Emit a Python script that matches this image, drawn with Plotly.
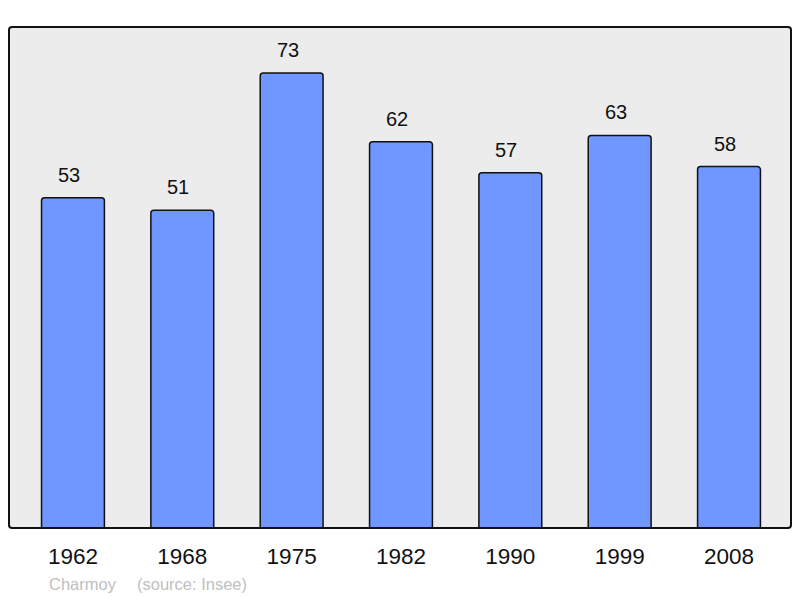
import plotly.graph_objects as go

years = ["1962", "1968", "1975", "1982", "1990", "1999", "2008"]
population = [53, 51, 73, 62, 57, 63, 58]
commune = "Charmoy"
source = "(source: Insee)"

x_pos = list(range(len(years)))

fig = go.Figure()
fig.add_trace(go.Bar(
    x=x_pos,
    y=population,
    width=0.575,
    marker=dict(color="#7096ff", line=dict(color="#111111", width=1.5), cornerradius=3),
    hoverinfo="skip",
))

# value labels above the bars (sit a little left of centre, as in the original)
for i, v in enumerate(population):
    fig.add_annotation(x=i, y=v, text=str(v), showarrow=False, yanchor="bottom",
                       yshift=10, xshift=-4, font=dict(size=20, color="#111111"))

fig.update_layout(
    width=800, height=598,
    margin=dict(l=9, r=9, t=27, b=70),
    paper_bgcolor="white",
    plot_bgcolor="#ececec",
    showlegend=False,
    font=dict(family="Liberation Sans, Arial, sans-serif"),
    xaxis=dict(range=[-0.585, 6.567], tickvals=x_pos, ticktext=years,
               showgrid=False, zeroline=False, ticks="", ticklabelstandoff=12,
               tickfont=dict(size=22.5, color="#111111")),
    yaxis=dict(range=[0, 80.4], showticklabels=False, showgrid=False,
               zeroline=False, ticks=""),
    shapes=[dict(type="path", xref="paper", yref="paper",
                 path="M 0,0.006 L 0,0.994 Q 0,1 0.004,1 L 0.996,1 Q 1,1 1,0.994 "
                      "L 1,0.006 Q 1,0 0.996,0 L 0.004,0 Q 0,0 0,0.006 Z",
                 line=dict(color="#111111", width=2), layer="above")],
)

fig.add_annotation(x=38 / 782, y=-0.112, xref="paper", yref="paper", text=commune,
                   showarrow=False, xanchor="left", yanchor="middle",
                   font=dict(size=16.5, color="#c0c0c0"))
fig.add_annotation(x=126 / 782, y=-0.112, xref="paper", yref="paper", text=source,
                   showarrow=False, xanchor="left", yanchor="middle",
                   font=dict(size=16.5, color="#c0c0c0"))

# drop the default 8px body margin so the figure fills the window exactly
fig.write_html("out.html", config={"displayModeBar": False},
               post_script="document.body.style.margin='0';")
